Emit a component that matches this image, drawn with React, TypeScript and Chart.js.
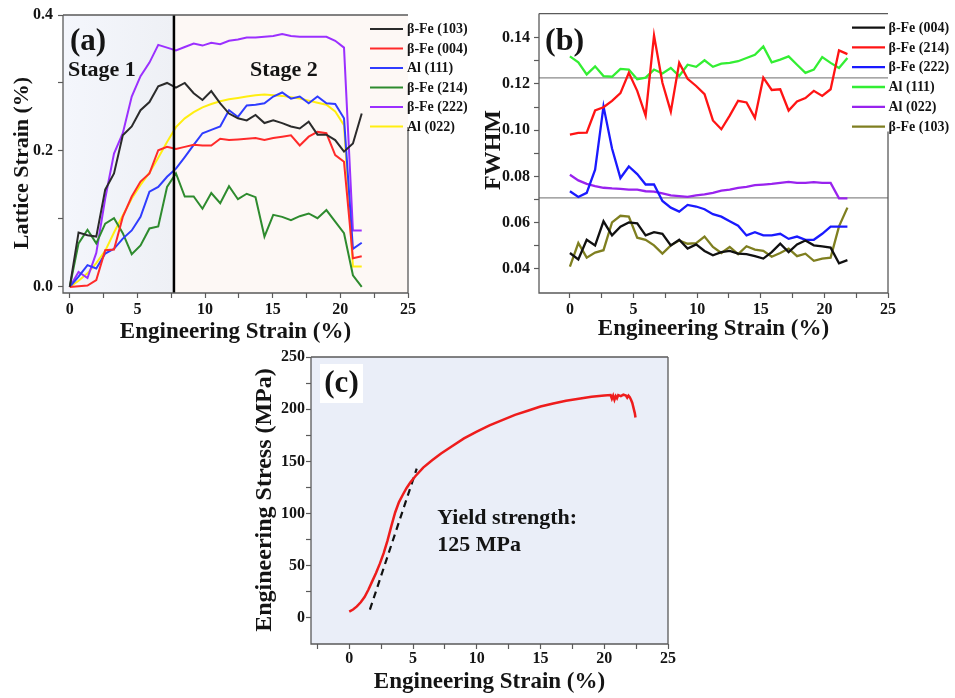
import React, { useEffect, useRef } from 'react';
import { Chart, registerables } from 'chart.js';

Chart.register(...registerables);

const SERIF = '"Liberation Serif", "Times New Roman", Times, serif';
const INK = '#141414';
const FRAME = '#5a5a5a';

// ---------------- Panel (a): lattice strain ----------------
const aStrain = [0, 0.65, 1.31, 1.96, 2.62, 3.27, 3.92, 4.58, 5.23, 5.89, 6.54, 7.19, 7.85, 8.5, 9.16, 9.81, 10.46, 11.12, 11.77, 12.43, 13.08, 13.73, 14.39, 15.04, 15.7, 16.35, 17.0, 17.66, 18.31, 18.97, 19.62, 20.27, 20.93, 21.58];
const aFe103 = [0, 0.080, 0.076, 0.074, 0.143, 0.167, 0.223, 0.236, 0.260, 0.272, 0.295, 0.300, 0.293, 0.300, 0.285, 0.275, 0.288, 0.270, 0.255, 0.248, 0.245, 0.253, 0.241, 0.245, 0.241, 0.236, 0.233, 0.243, 0.224, 0.224, 0.216, 0.199, 0.211, 0.255];
const aFe004 = [0, 0.001, 0.002, 0.010, 0.054, 0.055, 0.103, 0.133, 0.155, 0.167, 0.201, 0.206, 0.203, 0.206, 0.209, 0.208, 0.208, 0.218, 0.216, 0.217, 0.218, 0.219, 0.216, 0.219, 0.221, 0.223, 0.208, 0.221, 0.228, 0.226, 0.194, 0.184, 0.042, 0.045];
const aAl111 = [0, 0.015, 0.032, 0.027, 0.049, 0.056, 0.071, 0.083, 0.103, 0.140, 0.147, 0.162, 0.174, 0.191, 0.209, 0.226, 0.231, 0.236, 0.260, 0.250, 0.267, 0.268, 0.270, 0.280, 0.286, 0.277, 0.280, 0.270, 0.280, 0.270, 0.269, 0.248, 0.056, 0.065];
const aFe214 = [0, 0.064, 0.084, 0.064, 0.093, 0.101, 0.079, 0.048, 0.061, 0.086, 0.089, 0.147, 0.167, 0.133, 0.133, 0.115, 0.138, 0.123, 0.148, 0.129, 0.137, 0.132, 0.074, 0.106, 0.103, 0.098, 0.104, 0.108, 0.101, 0.113, 0.096, 0.079, 0.017, 0];
const aFe222 = [0, 0.022, 0.013, 0.050, 0.130, 0.196, 0.226, 0.280, 0.310, 0.330, 0.356, 0.352, 0.348, 0.353, 0.358, 0.355, 0.359, 0.357, 0.362, 0.364, 0.367, 0.367, 0.368, 0.369, 0.372, 0.369, 0.368, 0.368, 0.368, 0.368, 0.362, 0.352, 0.083, 0.083];
const aAl022 = [0, 0.009, 0.020, 0.035, 0.053, 0.080, 0.105, 0.130, 0.150, 0.168, 0.190, 0.213, 0.235, 0.248, 0.257, 0.264, 0.269, 0.273, 0.276, 0.278, 0.280, 0.282, 0.283, 0.282, 0.281, 0.279, 0.277, 0.274, 0.271, 0.268, 0.258, 0.238, 0.030, 0.030];
const aXTicks = [0, 2.5, 5, 7.5, 10, 12.5, 15, 17.5, 20, 22.5, 25];
const aXLabels = [0, 5, 10, 15, 20, 25];
const aYTicks = [0, 0.1, 0.2, 0.3, 0.4];
const aYLabels = [0, 0.2, 0.4];
const aStageBoundary = 7.7;

// ---------------- Panel (b): FWHM ----------------
const bStrain = [0, 0.66, 1.32, 1.98, 2.64, 3.31, 3.97, 4.63, 5.29, 5.95, 6.61, 7.27, 7.93, 8.59, 9.25, 9.92, 10.58, 11.24, 11.9, 12.56, 13.22, 13.88, 14.54, 15.2, 15.86, 16.53, 17.19, 17.85, 18.51, 19.17, 19.83, 20.49, 21.15, 21.81];
const bFe004 = [0.0469, 0.0441, 0.0526, 0.0502, 0.0606, 0.0545, 0.0583, 0.0601, 0.0597, 0.0545, 0.0559, 0.0552, 0.0502, 0.0526, 0.0488, 0.0506, 0.0478, 0.0459, 0.0473, 0.0478, 0.0466, 0.0464, 0.0455, 0.0445, 0.0473, 0.0509, 0.0473, 0.0506, 0.0523, 0.0502, 0.0498, 0.0492, 0.0424, 0.0438];
const bFe214 = [0.0981, 0.0988, 0.0989, 0.1085, 0.1099, 0.1127, 0.1160, 0.1248, 0.1170, 0.1063, 0.1409, 0.1205, 0.1080, 0.1291, 0.1222, 0.1191, 0.1156, 0.1042, 0.1004, 0.1063, 0.1127, 0.1120, 0.1053, 0.1227, 0.1174, 0.1177, 0.1085, 0.1124, 0.1139, 0.1170, 0.1148, 0.1177, 0.1345, 0.1329];
const bFe222 = [0.0736, 0.0711, 0.0729, 0.0829, 0.1103, 0.0921, 0.0793, 0.0843, 0.0810, 0.0765, 0.0765, 0.0694, 0.0665, 0.0648, 0.0677, 0.0670, 0.0658, 0.0637, 0.0626, 0.0606, 0.0587, 0.0545, 0.0559, 0.0545, 0.0545, 0.0552, 0.0530, 0.0540, 0.0526, 0.0526, 0.0552, 0.0583, 0.0583, 0.0583];
const bAl111 = [0.1319, 0.1293, 0.1241, 0.1276, 0.1234, 0.1231, 0.1265, 0.1262, 0.1220, 0.1227, 0.1262, 0.1245, 0.1269, 0.1234, 0.1283, 0.1274, 0.1302, 0.1274, 0.1288, 0.1291, 0.1298, 0.1312, 0.1326, 0.1362, 0.1293, 0.1305, 0.1319, 0.1283, 0.1248, 0.1262, 0.1316, 0.1291, 0.1269, 0.1312];
const bAl022 = [0.0807, 0.0783, 0.0768, 0.0758, 0.0751, 0.0748, 0.0746, 0.0743, 0.0743, 0.0736, 0.0734, 0.0727, 0.0718, 0.0715, 0.0712, 0.0718, 0.0722, 0.0729, 0.0739, 0.0743, 0.0751, 0.0755, 0.0762, 0.0765, 0.0768, 0.0772, 0.0776, 0.0772, 0.0772, 0.0775, 0.0772, 0.0772, 0.0705, 0.0705];
const bFe103 = [0.0410, 0.0512, 0.0449, 0.0471, 0.0481, 0.0601, 0.0630, 0.0626, 0.0535, 0.0526, 0.0502, 0.0466, 0.0502, 0.0523, 0.0509, 0.0512, 0.0540, 0.0495, 0.0469, 0.0495, 0.0464, 0.0498, 0.0484, 0.0478, 0.0453, 0.0469, 0.0488, 0.0455, 0.0466, 0.0435, 0.0445, 0.0449, 0.0584, 0.0665];
const bXTicks = [0, 2.5, 5, 7.5, 10, 12.5, 15, 17.5, 20, 22.5, 25];
const bXLabels = [0, 5, 10, 15, 20, 25];
const bYTicks = [0.04, 0.05, 0.06, 0.07, 0.08, 0.09, 0.1, 0.11, 0.12, 0.13, 0.14];
const bYLabels = [0.04, 0.06, 0.08, 0.1, 0.12, 0.14];
const bRefLines = [0.1226, 0.0707];

// ---------------- Panel (c): stress-strain ----------------
const cStrain = [0, 0.3, 0.6, 0.9, 1.2, 1.5, 1.8, 2.1, 2.4, 2.7, 3.0, 3.3, 3.6, 3.9, 4.2, 4.5, 4.8, 5.2, 5.8, 6.5, 7.2, 8.0, 9.0, 10.0, 11.0, 12.0, 13.0, 14.0, 15.0, 16.0, 17.0, 18.0, 19.0, 20.0, 20.5, 20.6, 20.7, 20.8, 20.9, 21.0, 21.1, 21.3, 21.5, 21.7, 21.8, 21.9, 22.0, 22.1, 22.2, 22.3, 22.4, 22.45];
const cStress = [6, 8, 11, 15, 20, 27, 35, 43, 52, 62, 74, 88, 101, 111, 118, 124.5, 130, 136, 144, 151, 157.5, 164, 172, 178.5, 184.5, 189.5, 194.5, 198.5, 202.5, 205.5, 208, 210, 212, 213, 213.5, 210, 213, 209, 212.5, 210.5, 213.5, 212.5, 214, 213, 211, 213, 211.5, 209, 206, 201, 196, 192];
const cFitStrain = [1.62, 5.29];
const cFitStress = [8, 143];
const cXTicks = [-2.5, 0, 2.5, 5, 7.5, 10, 12.5, 15, 17.5, 20, 22.5, 25];
const cXLabels = [0, 5, 10, 15, 20, 25];
const cYTicks = [0, 25, 50, 75, 100, 125, 150, 175, 200, 225, 250];
const cYLabels = [0, 50, 100, 150, 200, 250];
const cYieldLabel = { x: 6.9, y: 95 };

// ---------------- helpers ----------------
const pts = (xs: number[], ys: number[]) => xs.map((x, i) => ({ x, y: ys[i] }));
const near = (list: number[], v: number) => list.some((l) => Math.abs(l - v) < 1e-9);

function linearAxis(cfg: { min: number; max: number; ticks: number[]; labels: number[]; digits: number; fit: number; horizontal: boolean; pad: number }) {
  return {
    type: 'linear',
    min: cfg.min,
    max: cfg.max,
    afterFit: (s: any) => {
      if (cfg.horizontal) s.height = cfg.fit;
      else s.width = cfg.fit;
    },
    afterBuildTicks: (s: any) => {
      s.ticks = cfg.ticks.map((value) => ({ value }));
    },
    ticks: {
      autoSkip: false,
      maxRotation: 0,
      minRotation: 0,
      padding: cfg.pad,
      color: INK,
      font: { family: SERIF, size: 16, weight: 'bold' },
      callback: (v: any) => (near(cfg.labels, Number(v)) ? Number(v).toFixed(cfg.digits) : ''),
    },
    grid: { display: true, drawOnChartArea: false, drawTicks: true, tickLength: 5, tickWidth: 1.2, tickColor: FRAME, color: FRAME },
    border: { display: false },
  };
}

function drawText(ctx: CanvasRenderingContext2D, str: string, x: number, y: number, size: number, align: CanvasTextAlign = 'left', rotate = false) {
  ctx.save();
  ctx.font = `bold ${size}px ${SERIF}`;
  ctx.fillStyle = INK;
  ctx.textAlign = align;
  ctx.textBaseline = 'middle';
  ctx.translate(x, y);
  if (rotate) ctx.rotate(-Math.PI / 2);
  ctx.fillText(str, 0, 0);
  ctx.restore();
}

function drawFrame(ctx: CanvasRenderingContext2D, ca: any, rightFrom: number) {
  ctx.save();
  ctx.strokeStyle = FRAME;
  ctx.lineWidth = 1.3;
  ctx.beginPath();
  ctx.moveTo(ca.left, ca.top);
  ctx.lineTo(ca.right, ca.top);
  ctx.moveTo(ca.left, ca.top);
  ctx.lineTo(ca.left, ca.bottom);
  ctx.lineTo(ca.right, ca.bottom);
  ctx.moveTo(ca.right, rightFrom);
  ctx.lineTo(ca.right, ca.bottom);
  ctx.stroke();
  ctx.restore();
}

function drawLegend(chart: any, x0: number, x1: number, tx: number, y0: number, dy: number, lw: number) {
  const ctx = chart.ctx as CanvasRenderingContext2D;
  ctx.save();
  ctx.font = `bold 14px ${SERIF}`;
  ctx.textBaseline = 'middle';
  ctx.textAlign = 'left';
  chart.data.datasets
    .filter((d: any) => !d.noLegend)
    .forEach((d: any, i: number) => {
      const y = y0 + i * dy;
      ctx.strokeStyle = d.borderColor;
      ctx.lineWidth = lw;
      ctx.beginPath();
      ctx.moveTo(x0, y);
      ctx.lineTo(x1, y);
      ctx.stroke();
      ctx.fillStyle = INK;
      ctx.fillText(d.label, tx, y + 0.5);
    });
  ctx.restore();
}

function baseOptions(padding: any, scales: any) {
  return {
    responsive: false,
    animation: false,
    devicePixelRatio: 1,
    layout: { padding, autoPadding: false },
    plugins: { legend: { display: false }, tooltip: { enabled: false } },
    elements: { point: { radius: 0 }, line: { tension: 0 } },
    scales,
  };
}

// ---------------- chart builders ----------------
function buildA(): any {
  const series: [string, number[], string][] = [
    ['β-Fe (103)', aFe103, '#2b2b2b'],
    ['β-Fe (004)', aFe004, '#ff2a2a'],
    ['Al (111)', aAl111, '#2f3cff'],
    ['β-Fe (214)', aFe214, '#2e8b2e'],
    ['β-Fe (222)', aFe222, '#9b30ff'],
    ['Al (022)', aAl022, '#ffee11'],
  ];
  const datasets = series.map(([label, ys, color]) => ({
    label, data: pts(aStrain, ys), borderColor: color, borderWidth: 2, pointRadius: 0, fill: false,
  }));
  const decor = {
    id: 'decorA',
    beforeDatasetsDraw(chart: any) {
      const { ctx, chartArea: ca, scales } = chart;
      const xb = scales.x.getPixelForValue(aStageBoundary);
      ctx.save();
      const g = ctx.createLinearGradient(ca.left, 0, xb, 0);
      g.addColorStop(0, '#f4f6fc');
      g.addColorStop(1, '#eef0f5');
      ctx.fillStyle = g;
      ctx.fillRect(ca.left, ca.top, xb - ca.left, ca.bottom - ca.top);
      ctx.fillStyle = '#fdf8f5';
      ctx.fillRect(xb, ca.top, ca.right - xb, ca.bottom - ca.top);
      ctx.restore();
    },
    afterDatasetsDraw(chart: any) {
      const { ctx, chartArea: ca, scales } = chart;
      const xb = scales.x.getPixelForValue(aStageBoundary);
      ctx.save();
      ctx.strokeStyle = '#000';
      ctx.lineWidth = 2.5;
      ctx.beginPath();
      ctx.moveTo(xb, ca.top);
      ctx.lineTo(xb, ca.bottom);
      ctx.stroke();
      ctx.restore();
      drawFrame(ctx, ca, ca.top + 112);
      drawLegend(chart, ca.right - 38, ca.right - 5, ca.right - 1, ca.top + 14, 19.5, 2);
      drawText(ctx, '(a)', ca.left + 7, ca.top + 27, 31);
      drawText(ctx, 'Stage 1', ca.left + 5, ca.top + 55, 22);
      drawText(ctx, 'Stage 2', ca.left + 187, ca.top + 55, 22);
      drawText(ctx, 'Engineering Strain (%)', (ca.left + ca.right) / 2, 332, 23, 'center');
      drawText(ctx, 'Lattice Strain (%)', 22, 163, 22, 'center', true);
    },
  };
  return {
    type: 'line',
    data: { datasets },
    options: baseOptions({ left: 0, top: 15, right: 92, bottom: 0 }, {
      x: linearAxis({ min: -0.5, max: 25, ticks: aXTicks, labels: aXLabels, digits: 0, fit: 57, horizontal: true, pad: 2 }),
      y: linearAxis({ min: -0.009, max: 0.4, ticks: aYTicks, labels: aYLabels, digits: 1, fit: 63, horizontal: false, pad: 5 }),
    }),
    plugins: [decor],
  };
}

function buildB(): any {
  const series: [string, number[], string][] = [
    ['β-Fe (004)', bFe004, '#111111'],
    ['β-Fe (214)', bFe214, '#ff1414'],
    ['β-Fe (222)', bFe222, '#1a1aff'],
    ['Al (111)', bAl111, '#33ee33'],
    ['Al (022)', bAl022, '#9922ee'],
    ['β-Fe (103)', bFe103, '#7f7f20'],
  ];
  const datasets = series.map(([label, ys, color]) => ({
    label, data: pts(bStrain, ys), borderColor: color, borderWidth: 2.3, pointRadius: 0, fill: false,
  }));
  const decor = {
    id: 'decorB',
    beforeDatasetsDraw(chart: any) {
      const { ctx, chartArea: ca, scales } = chart;
      ctx.save();
      ctx.strokeStyle = '#8a8a8a';
      ctx.lineWidth = 1.2;
      bRefLines.forEach((v) => {
        const y = scales.y.getPixelForValue(v);
        ctx.beginPath();
        ctx.moveTo(ca.left, y);
        ctx.lineTo(ca.right, y);
        ctx.stroke();
      });
      ctx.restore();
    },
    afterDatasetsDraw(chart: any) {
      const { ctx, chartArea: ca } = chart;
      drawFrame(ctx, ca, ca.top + 118);
      drawLegend(chart, ca.right - 36, ca.right - 3, ca.right + 0.5, ca.top + 14, 19.8, 2.3);
      drawText(ctx, '(b)', ca.left + 6, ca.top + 28, 32);
      drawText(ctx, 'Engineering Strain (%)', (ca.left + ca.right) / 2, 329, 23, 'center');
      drawText(ctx, 'FWHM', 14, 150, 24, 'center', true);
    },
  };
  return {
    type: 'line',
    data: { datasets },
    options: baseOptions({ left: 0, top: 10, right: 67, bottom: 0 }, {
      x: linearAxis({ min: -2.43, max: 25, ticks: bXTicks, labels: bXLabels, digits: 0, fit: 57, horizontal: true, pad: 2 }),
      y: linearAxis({ min: 0.0296, max: 0.1504, ticks: bYTicks, labels: bYLabels, digits: 2, fit: 59, horizontal: false, pad: 4 }),
    }),
    plugins: [decor],
  };
}

function buildC(): any {
  const datasets = [
    { label: 'Stress', data: pts(cStrain, cStress), borderColor: '#ee1c1c', borderWidth: 2.5, pointRadius: 0, fill: false, noLegend: true },
    { label: 'Fit', data: pts(cFitStrain, cFitStress), borderColor: '#111111', borderWidth: 2.2, borderDash: [7, 5], pointRadius: 0, fill: false, noLegend: true },
  ];
  const decor = {
    id: 'decorC',
    beforeDatasetsDraw(chart: any) {
      const { ctx, chartArea: ca } = chart;
      ctx.save();
      ctx.fillStyle = '#eaeef8';
      ctx.fillRect(ca.left, ca.top, ca.right - ca.left, ca.bottom - ca.top);
      ctx.fillStyle = '#ffffff';
      ctx.fillRect(ca.left + 9, ca.top + 7, 43, 39);
      ctx.restore();
    },
    afterDatasetsDraw(chart: any) {
      const { ctx, chartArea: ca, scales } = chart;
      drawFrame(ctx, ca, ca.top);
      drawText(ctx, '(c)', ca.left + 30.5, ca.top + 27, 31, 'center');
      const lx = scales.x.getPixelForValue(cYieldLabel.x);
      const ly = scales.y.getPixelForValue(cYieldLabel.y);
      drawText(ctx, 'Yield strength:', lx, ly, 22);
      drawText(ctx, '125 MPa', lx, ly + 27, 22);
      drawText(ctx, 'Engineering Strain (%)', (ca.left + ca.right) / 2, 342, 23, 'center');
      drawText(ctx, 'Engineering Stress (MPa)', 25, 160, 24, 'center', true);
    },
  };
  return {
    type: 'line',
    data: { datasets },
    options: baseOptions({ left: 0, top: 17, right: 22, bottom: 0 }, {
      x: linearAxis({ min: -3, max: 25, ticks: cXTicks, labels: cXLabels, digits: 0, fit: 54, horizontal: true, pad: 0 }),
      y: linearAxis({ min: -25, max: 250, ticks: cYTicks, labels: cYLabels, digits: 0, fit: 71, horizontal: false, pad: 1 }),
    }),
    plugins: [decor],
  };
}

function ChartCanvas({ left, top, width, height, build }: { left: number; top: number; width: number; height: number; build: () => any }) {
  const ref = useRef<HTMLCanvasElement | null>(null);
  useEffect(() => {
    if (!ref.current) return;
    const chart = new Chart(ref.current, build());
    return () => chart.destroy();
  }, [build]);
  return <canvas ref={ref} width={width} height={height} style={{ position: 'absolute', left, top, width, height }} />;
}

export default function App() {
  return (
    <div style={{ position: 'absolute', left: 0, top: 0, width: 955, height: 698, background: '#ffffff', overflow: 'hidden' }}>
      <ChartCanvas left={0} top={0} width={500} height={350} build={buildA} />
      <ChartCanvas left={480} top={0} width={475} height={350} build={buildB} />
      <ChartCanvas left={240} top={340} width={450} height={358} build={buildC} />
    </div>
  );
}
